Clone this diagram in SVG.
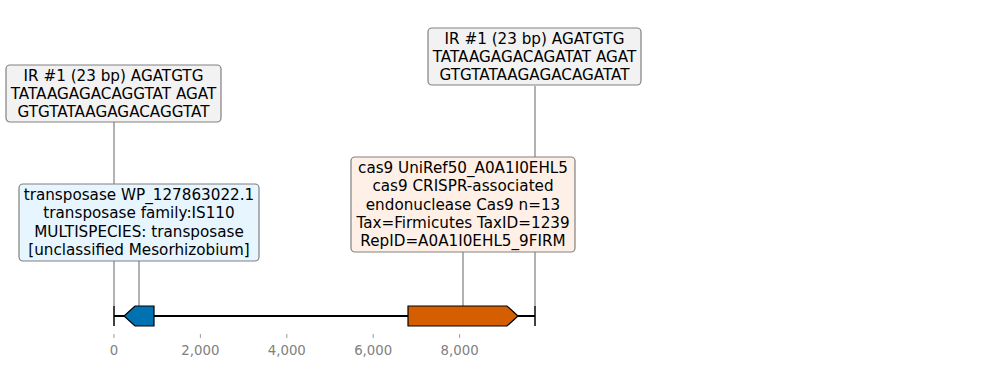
<svg xmlns="http://www.w3.org/2000/svg" width="989" height="368" viewBox="0 0 989 368">
  <style>
    .lbl { font-family: "DejaVu Sans", "Liberation Sans", sans-serif; font-size: 15.2px; fill: #000; text-anchor: middle; }
    .tick { font-family: "DejaVu Sans", "Liberation Sans", sans-serif; font-size: 13.3px; fill: #808080; text-anchor: middle; }
    .box { stroke: #808080; stroke-width: 1.2; }
    .ir { fill: #f2f2f2; }
    .blue { fill: #e6f5fe; }
    .orange { fill: #fef0e6; }
    .lead { stroke: #222222; stroke-width: 0.7; fill: none; }
    .gene { stroke: #000; stroke-width: 1.2; }
  </style>
  <rect width="989" height="368" fill="#ffffff"/>

  <!-- leader lines from labels down to the track -->
  <g id="connectors">
    <line class="lead" x1="114" y1="122" x2="114" y2="184"/>
    <line class="lead" x1="114" y1="261" x2="114" y2="306"/>
    <line class="lead" x1="139" y1="261" x2="139" y2="306"/>
    <line class="lead" x1="535" y1="86" x2="535" y2="306"/>
    <line class="lead" x1="463" y1="252" x2="463" y2="306"/>
  </g>

  <!-- sequence track and coordinate axis -->
  <g id="track">
    <line x1="114" y1="316" x2="535" y2="316" stroke="#000" stroke-width="1.8"/>
    <line x1="114" y1="306" x2="114" y2="326" stroke="#000" stroke-width="1.5"/>
    <line x1="535" y1="306" x2="535" y2="326" stroke="#000" stroke-width="1.5"/>
  </g>
  <g id="axis">
    <g stroke="#808080" stroke-width="0.8">
      <line x1="114" y1="334" x2="114" y2="338"/>
      <line x1="200.4" y1="334" x2="200.4" y2="338"/>
      <line x1="286.8" y1="334" x2="286.8" y2="338"/>
      <line x1="373.2" y1="334" x2="373.2" y2="338"/>
      <line x1="459.6" y1="334" x2="459.6" y2="338"/>
    </g>
    <text class="tick" x="114" y="355">0</text>
    <text class="tick" x="200.4" y="355">2,000</text>
    <text class="tick" x="286.8" y="355">4,000</text>
    <text class="tick" x="373.2" y="355">6,000</text>
    <text class="tick" x="459.6" y="355">8,000</text>
  </g>

  <!-- genes -->
  <g id="gene-transposase">
    <polygon class="gene" fill="#0072b2" points="154,306 135,306 124,316 135,326 154,326"/>
  </g>
  <g id="gene-cas9">
    <polygon class="gene" fill="#d55e00" points="408,306 507,306 518,316 507,326 408,326"/>
  </g>

  <!-- labels -->
  <g id="ir-left">
    <rect class="box ir" x="6" y="65" width="215" height="57" rx="4"/>
    <text class="lbl" x="113.5" y="80.5">IR #1 (23 bp) AGATGTG</text>
    <text class="lbl" x="113.5" y="98.8">TATAAGAGACAGGTAT AGAT</text>
    <text class="lbl" x="113.5" y="117.1">GTGTATAAGAGACAGGTAT</text>
  </g>
  <g id="ir-right">
    <rect class="box ir" x="428" y="28" width="213" height="57" rx="4"/>
    <text class="lbl" x="534.5" y="43.5">IR #1 (23 bp) AGATGTG</text>
    <text class="lbl" x="534.5" y="61.8">TATAAGAGACAGATAT AGAT</text>
    <text class="lbl" x="534.5" y="80.1">GTGTATAAGAGACAGATAT</text>
  </g>
  <g id="transposase">
    <rect class="box blue" x="19" y="184" width="240" height="77" rx="4"/>
    <text class="lbl" x="139" y="200">transposase WP_127863022.1</text>
    <text class="lbl" x="139" y="218.3">transposase family:IS110</text>
    <text class="lbl" x="139" y="236.6">MULTISPECIES: transposase</text>
    <text class="lbl" x="139" y="254.9">[unclassified Mesorhizobium]</text>
  </g>
  <g id="cas9">
    <rect class="box orange" x="351" y="157" width="224" height="95" rx="4"/>
    <text class="lbl" x="463" y="173">cas9 UniRef50_A0A1I0EHL5</text>
    <text class="lbl" x="463" y="191.3">cas9 CRISPR-associated</text>
    <text class="lbl" x="463" y="209.6">endonuclease Cas9 n=13</text>
    <text class="lbl" x="463" y="227.9">Tax=Firmicutes TaxID=1239</text>
    <text class="lbl" x="463" y="246.2">RepID=A0A1I0EHL5_9FIRM</text>
  </g>
</svg>
